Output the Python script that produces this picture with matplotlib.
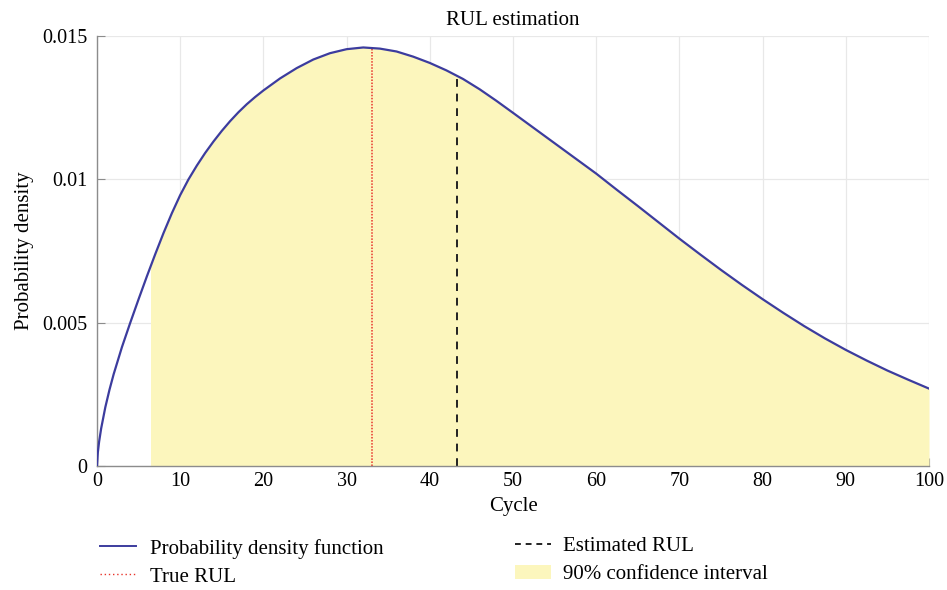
import matplotlib
matplotlib.use("Agg")
import matplotlib.pyplot as plt
import numpy as np
from matplotlib.lines import Line2D
from matplotlib.patches import Patch, Rectangle

plt.rcParams['font.family'] = ['Liberation Serif', 'DejaVu Serif']

# Data
cycle = [0, 0.1, 0.25, 0.5, 1, 1.5, 2, 3, 4, 5, 6, 7, 8, 9, 10, 11, 12, 13, 14, 15, 16, 17, 18,
         19, 20, 22, 24, 26, 28, 30, 32, 34, 36, 38, 40, 42, 44, 46, 48, 50, 52.5, 55, 57.5,
         60, 62.5, 65, 67.5, 70, 72.5, 75, 77.5, 80, 82.5, 85, 87.5, 90, 92.5, 95, 97.5, 100]
density = [0, 0.00047, 0.00084, 0.00131, 0.00205, 0.00266, 0.0032, 0.00415, 0.005, 0.00582,
           0.00662, 0.00739, 0.00813, 0.00882, 0.00945, 0.0100, 0.01048, 0.01092, 0.01132,
           0.01169, 0.01203, 0.01234, 0.01262, 0.01287, 0.0131, 0.01352, 0.01388, 0.01418,
           0.0144, 0.01454, 0.0146, 0.01456, 0.01446, 0.01428, 0.01406, 0.0138, 0.0135,
           0.01314, 0.01274, 0.01232, 0.01179, 0.01126, 0.01073, 0.0102, 0.00963, 0.00907,
           0.0085, 0.00793, 0.00738, 0.00684, 0.00632, 0.00582, 0.00534, 0.00488, 0.00445,
           0.00405, 0.00368, 0.00333, 0.00301, 0.0027]
ci_lower = 6.55
ci_upper = 100
true_rul = 33.0
est_rul = 43.3

x_ticks = [0, 10, 20, 30, 40, 50, 60, 70, 80, 90, 100]
y_ticks = [0, 0.005, 0.01, 0.015]
y_ticklabels = ['0', '0.005', '0.01', '0.015']

line_color = '#3c3c9e'
fill_color = '#fcf6bd'
grid_color = '#e8e8e8'
spine_color = '#8c8c8c'

fig = plt.figure(figsize=(9.47, 5.9), dpi=100)
ax = fig.add_axes([97/947, 1-466/590, 832/947, 430/590])

# area under the curve, clipped to the confidence interval
area = ax.fill_between(cycle, 0, density, color=fill_color, linewidth=0, zorder=1)
clip = Rectangle((ci_lower, 0), ci_upper - ci_lower, 1, transform=ax.transData)
area.set_clip_path(clip)

ax.plot(cycle, density, color=line_color, linewidth=1.6, zorder=3)

# vertical markers, clipped under the curve
under = ax.fill_between(cycle, 0, density, color='none', linewidth=0)
under_path = under.get_paths()[0]
l_true = ax.axvline(true_rul, color='#e8332a', linestyle=(0, (1, 1)), linewidth=1.1, zorder=2)
l_est = ax.axvline(est_rul, color='#222222', linestyle=(0, (4, 3.5)), linewidth=1.4, zorder=2)
l_true.set_clip_path(under_path, ax.transData)
l_est.set_clip_path(under_path, ax.transData)

ax.set_xlim(0, 100)
ax.set_ylim(0, 0.015)
ax.set_xticks(x_ticks)
ax.set_yticks(y_ticks)
ax.set_yticklabels(y_ticklabels)
ax.grid(True, color=grid_color, linewidth=0.9, zorder=0)
ax.set_axisbelow(True)
for s in ['top', 'right']:
    ax.spines[s].set_visible(False)
for s in ['left', 'bottom']:
    ax.spines[s].set_color(spine_color)
    ax.spines[s].set_linewidth(1.0)
ax.tick_params(direction='in', length=6, color=spine_color, labelsize=14.5)
ax.tick_params(axis='y', pad=7)
ax.tick_params(axis='x', pad=4)

ax.set_title('RUL estimation', fontsize=15, pad=8)
ax.set_xlabel('Cycle', fontsize=15, labelpad=5)
ax.set_ylabel('Probability density', fontsize=15, labelpad=6)

h_pdf = Line2D([], [], color=line_color, linewidth=1.4)
h_true = Line2D([], [], color='#e8332a', linestyle=(0, (1, 2)), linewidth=1.0)
h_est = Line2D([], [], color='#222222', linestyle=(0, (3, 2.5)), linewidth=1.4)
h_ci = Patch(facecolor=fill_color, edgecolor='none')

leg1 = fig.legend([h_pdf, h_true], ['Probability density function', 'True RUL'],
                  loc='upper left', bbox_to_anchor=(81/947, 1-520/590), frameon=False,
                  fontsize=15, handlelength=1.75, handletextpad=0.65, labelspacing=0.4)
leg2 = fig.legend([h_est, h_ci], ['Estimated RUL', '90% confidence interval'],
                  loc='upper left', bbox_to_anchor=(496/947, 1-518/590), frameon=False,
                  fontsize=15, handlelength=1.75, handletextpad=0.55, labelspacing=0.4)

fig.savefig('out.png', dpi=100)
